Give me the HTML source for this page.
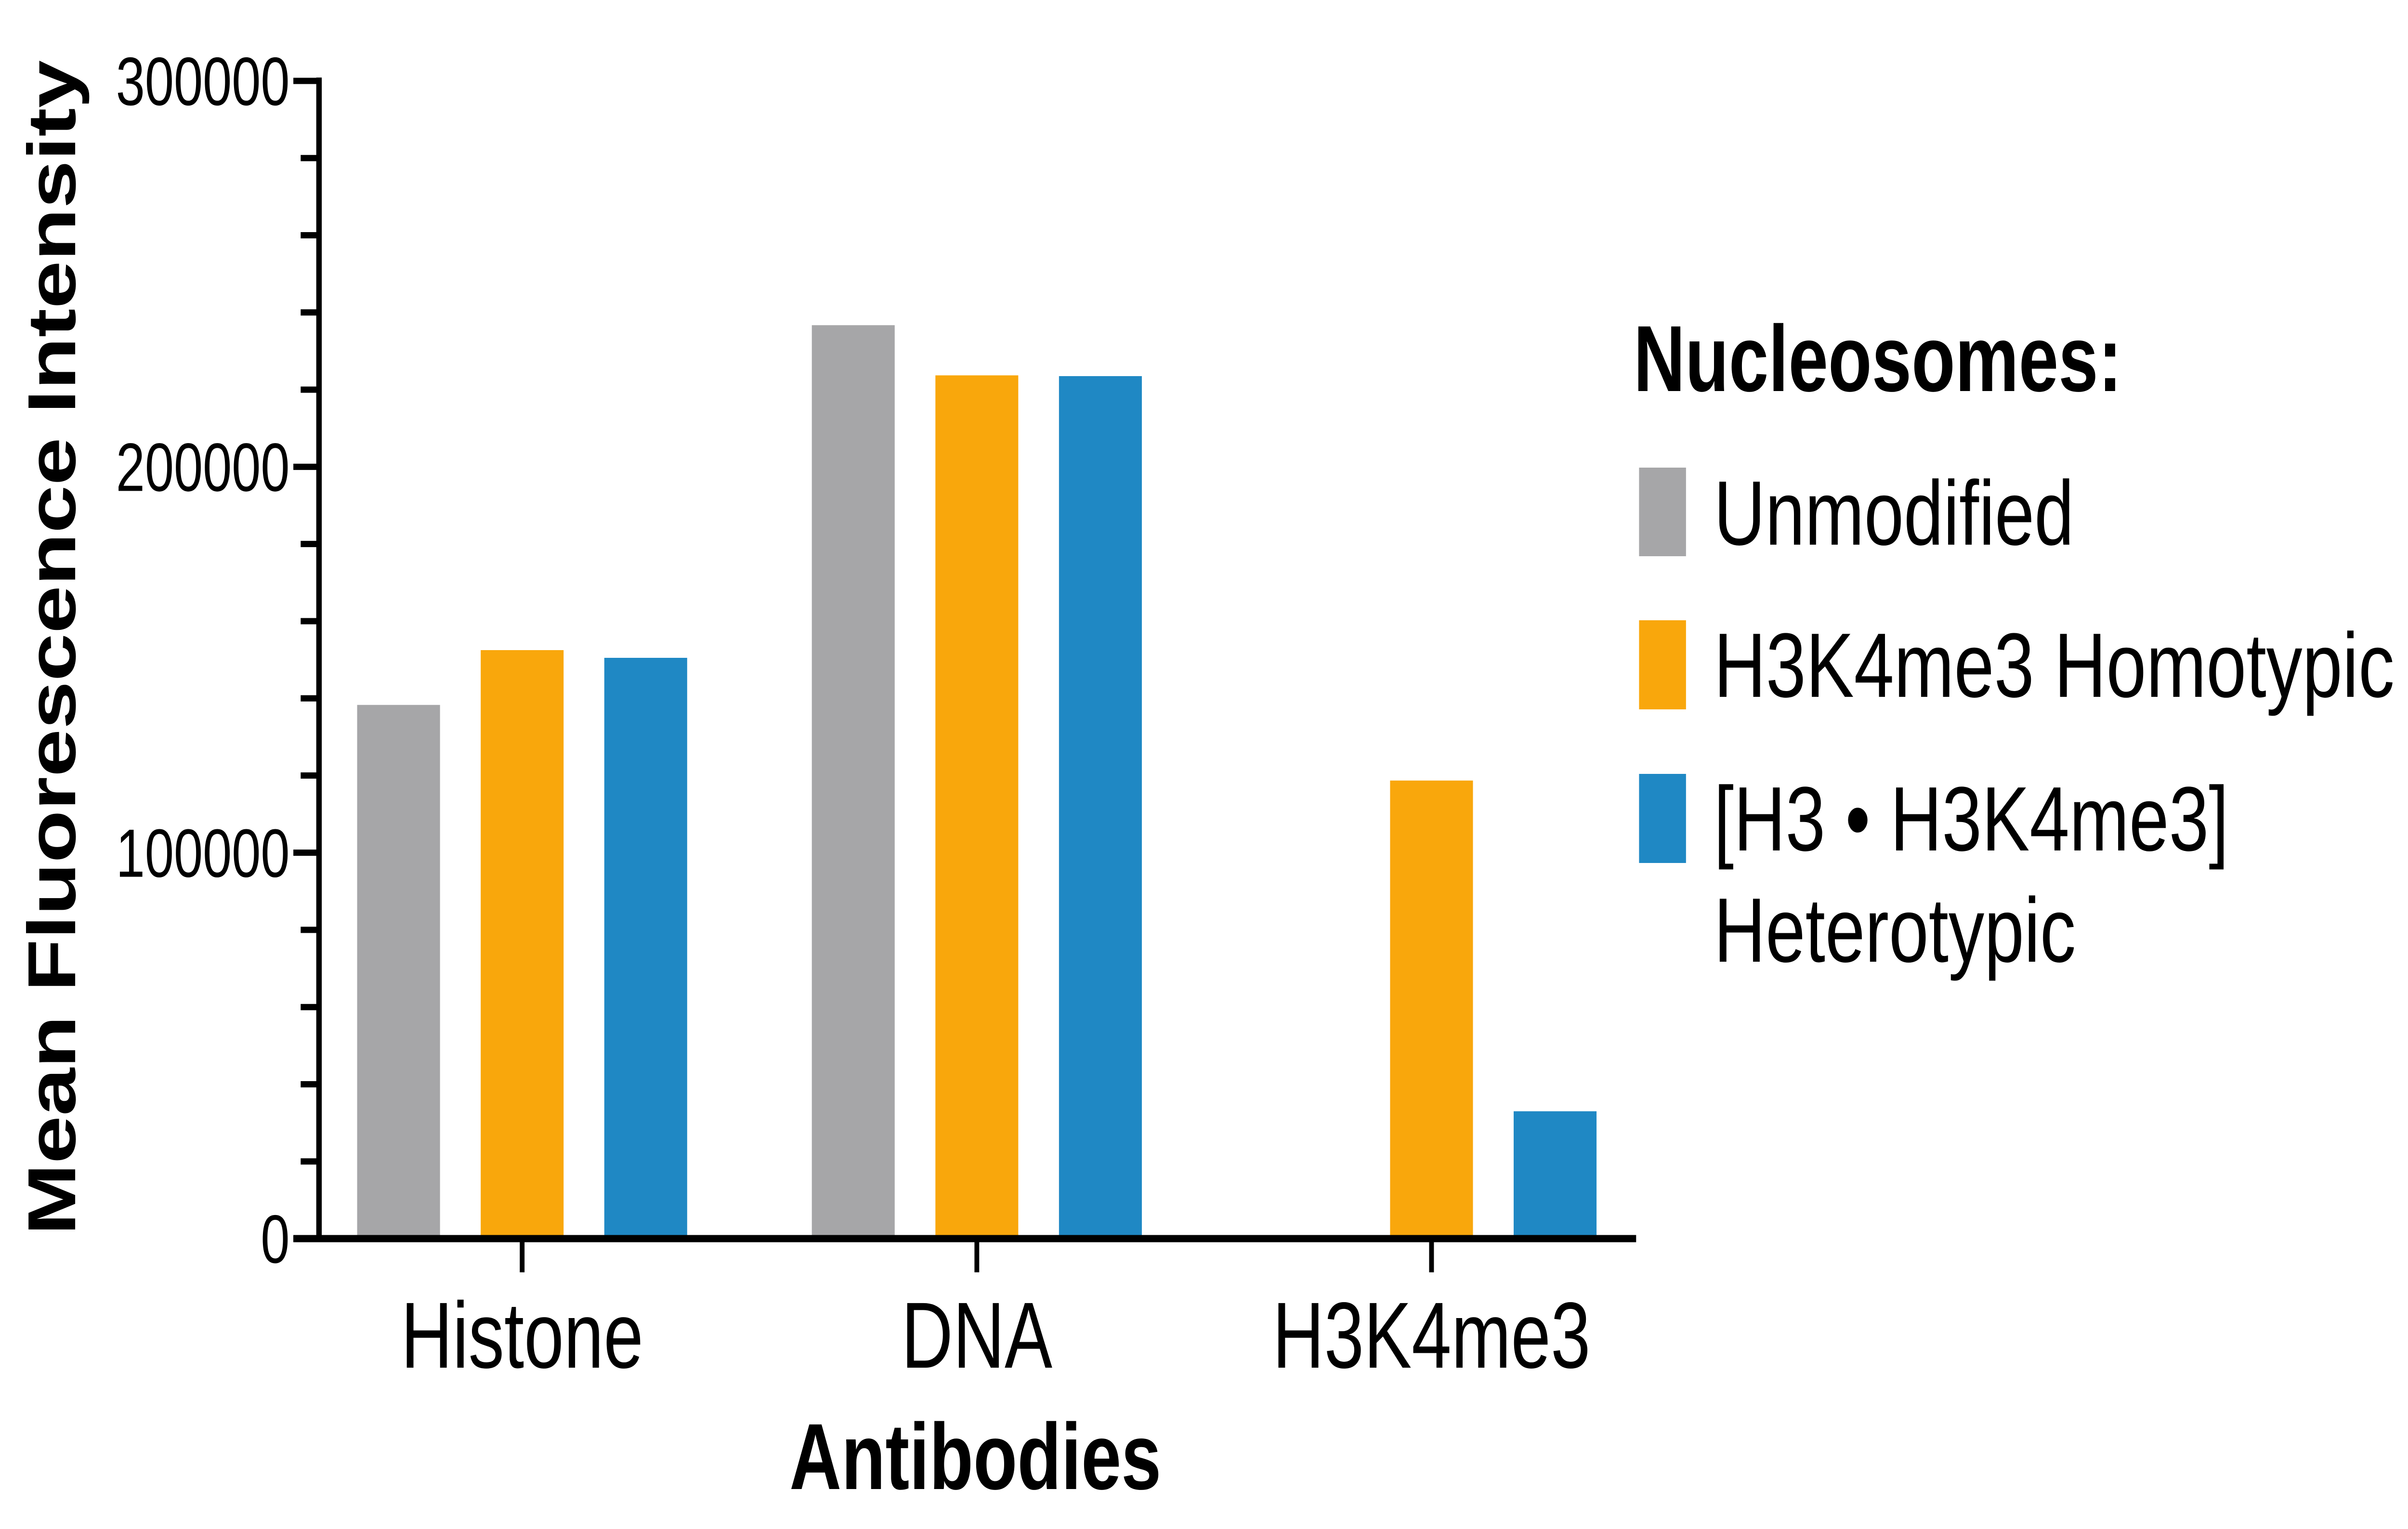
<!DOCTYPE html>
<html><head><meta charset="utf-8"><style>
html,body{margin:0;padding:0;background:#fff;overflow:hidden;width:100%;height:100%}
svg{display:block;width:100vw;height:100vh}
text{font-family:"Liberation Sans",Arial,sans-serif;fill:#000}
</style></head><body>
<svg id="chart" viewBox="0 0 6567 3175" preserveAspectRatio="none" xmlns="http://www.w3.org/2000/svg">
<g id="bars"></g>
<g id="axes"></g>
<text transform="translate(205,1345) rotate(-90)" text-anchor="middle" font-weight="bold" font-size="185" textLength="2440" lengthAdjust="spacingAndGlyphs">Mean Fluorescence Intensity</text>
<text x="2660" y="3092" text-anchor="middle" font-weight="bold" font-size="195" textLength="1014" lengthAdjust="spacingAndGlyphs">Antibodies</text>
<g>
<text x="4455" y="812" font-weight="bold" font-size="195" textLength="1332" lengthAdjust="spacingAndGlyphs">Nucleosomes:</text>
<rect x="4470" y="971" width="128" height="184" fill="#a6a6a8"/>
<text x="4674" y="1131" font-size="190" textLength="982" lengthAdjust="spacingAndGlyphs">Unmodified</text>
<rect x="4470" y="1288" width="128" height="185" fill="#f9a70c"/>
<text x="4674" y="1447" font-size="190" textLength="1856" lengthAdjust="spacingAndGlyphs">H3K4me3 Homotypic</text>
<rect x="4470" y="1607" width="128" height="185" fill="#1f88c4"/>
<text x="4674" y="1766" font-size="190" textLength="1404" lengthAdjust="spacingAndGlyphs">[H3 • H3K4me3]</text>
<text x="4674" y="1997" font-size="190" textLength="987" lengthAdjust="spacingAndGlyphs">Heterotypic</text>
</g>
</svg>
<script>
const categories = ["Histone", "DNA", "H3K4me3"];
const seriesNames = ["Unmodified", "H3K4me3 Homotypic", "Heterotypic"];
const unmodified = [138300, 236700, 0];
const homotypic = [152500, 223700, 118700];
const heterotypic = [150500, 223500, 33000];
const yTicks = [0, 100000, 200000, 300000];
const yTickLabels = ["0", "100000", "200000", "300000"];

const NS = "http://www.w3.org/2000/svg";
const colors = ["#a6a6a8", "#f9a70c", "#1f88c4"];
const series = [unmodified, homotypic, heterotypic];
const X0 = 870, Y0 = 2572, YTOP = 168, YMAX = 300000;
function yScale(v){ return Y0 - (v / YMAX) * (Y0 - YTOP); }
function groupCenter(i){ return 1424 + i * 1240; }
const barW = 226, barStep = 337;
function mk(tag, attrs){ const e = document.createElementNS(NS, tag); for (const k in attrs) e.setAttribute(k, attrs[k]); return e; }

const barsG = document.getElementById("bars");
series.forEach((vals, s) => {
  vals.forEach((v, i) => {
    const cx = groupCenter(i) + (s - 1) * barStep;
    const y = yScale(v);
    const r = mk("rect", {x: cx - barW/2, y: y, width: barW, height: Math.max(0, Y0 - y), fill: colors[s]});
    
    
    barsG.appendChild(r);
  });
});

const ax = document.getElementById("axes");
const yl = mk("line", {x1: X0, y1: YTOP - 7, x2: X0, y2: Y0 + 7, stroke: "#000", "stroke-width": 15});


ax.appendChild(yl);
const xl = mk("line", {x1: 800, y1: Y0, x2: 4462, y2: Y0, stroke: "#000", "stroke-width": 15});


ax.appendChild(xl);
for (let v = 0; v <= YMAX; v += 20000) {
  const major = v % 100000 === 0;
  const t = mk("line", {x1: major ? 800 : 820, y1: yScale(v), x2: X0, y2: yScale(v), stroke: "#000", "stroke-width": 13});
  
  
  ax.appendChild(t);
}
yTicks.forEach((v, i) => {
  const t = mk("text", {x: 790, y: yScale(v) + 50, "text-anchor": "end", "font-size": 142});
  t.textContent = yTickLabels[i];
  
  
  ax.appendChild(t);
});
categories.forEach((c, i) => {
  const tk = mk("line", {x1: groupCenter(i), y1: Y0, x2: groupCenter(i), y2: Y0 + 70, stroke: "#000", "stroke-width": 13});
  
  
  ax.appendChild(tk);
  const t = mk("text", {x: groupCenter(i), y: 2840, "text-anchor": "middle", "font-size": 195});
  t.textContent = c;
  
  
  ax.appendChild(t);
});
</script>
</body></html>
